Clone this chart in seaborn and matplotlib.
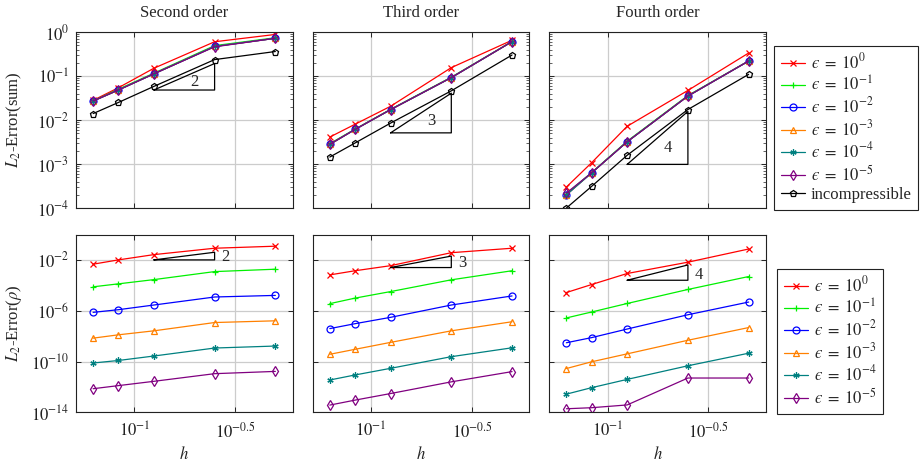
import numpy as np
import matplotlib
matplotlib.use("Agg")
import matplotlib.pyplot as plt
import seaborn as sns
from matplotlib.ticker import LogLocator, NullLocator, FixedLocator, NullFormatter

# ---------------- data ----------------
h = [1/16, 1/12, 1/8, 1/4, 1/2]
titles = ["Second order", "Third order", "Fourth order"]
series_labels = ["$\u03f5\\;=\\;10^{0}$", "$\u03f5\\;=\\;10^{-1}$", "$\u03f5\\;=\\;10^{-2}$",
                 "$\u03f5\\;=\\;10^{-3}$", "$\u03f5\\;=\\;10^{-4}$", "$\u03f5\\;=\\;10^{-5}$",
                 "incompressible"]
colors = ["#ff0000", "#00f000", "#0000ff", "#ff8000", "#008080", "#800080", "#000000"]
markers = ["x", "+", "o", "^", (6, 2, 0), "d", "p"]

# L2 error (sum), second order
s2_e0 = [0.028, 0.054, 0.15, 0.60, 0.88]
s2_e1 = [0.027, 0.050, 0.116, 0.49, 0.74]
s2_e2 = [0.027, 0.048, 0.112, 0.47, 0.72]
s2_e3 = [0.027, 0.048, 0.112, 0.47, 0.72]
s2_e4 = [0.027, 0.048, 0.112, 0.47, 0.72]
s2_e5 = [0.027, 0.048, 0.112, 0.46, 0.72]
s2_inc = [0.014, 0.025, 0.058, 0.236, 0.36]
# third order
s3_e0 = [0.0041, 0.0080, 0.0205, 0.155, 0.65]
s3_e1 = [0.0029, 0.0062, 0.0175, 0.094, 0.61]
s3_e2 = [0.0028, 0.0061, 0.0172, 0.092, 0.605]
s3_e3 = [0.0028, 0.0061, 0.0172, 0.092, 0.605]
s3_e4 = [0.0028, 0.0061, 0.0172, 0.092, 0.605]
s3_e5 = [0.0028, 0.0061, 0.0172, 0.092, 0.605]
s3_inc = [0.00144, 0.0030, 0.0085, 0.046, 0.30]
# fourth order
s4_e0 = [3.0e-4, 1.07e-3, 7.2e-3, 0.047, 0.333]
s4_e1 = [2.1e-4, 6.4e-4, 3.3e-3, 0.036, 0.22]
s4_e2 = [2.0e-4, 6.3e-4, 3.2e-3, 0.035, 0.219]
s4_e3 = [2.0e-4, 6.3e-4, 3.2e-3, 0.035, 0.219]
s4_e4 = [2.0e-4, 6.3e-4, 3.2e-3, 0.035, 0.219]
s4_e5 = [2.2e-4, 6.3e-4, 3.2e-3, 0.035, 0.219]
s4_inc = [1.0e-4, 3.1e-4, 1.58e-3, 0.0173, 0.109]

# L2 error (rho)
r2_e0 = [4.6e-3, 1.0e-2, 2.6e-2, 8.3e-2, 0.12]
r2_e1 = [7.6e-5, 1.3e-4, 2.8e-4, 1.2e-3, 1.85e-3]
r2_e2 = [7.4e-7, 1.2e-6, 2.8e-6, 1.2e-5, 1.6e-5]
r2_e3 = [6.9e-9, 1.26e-8, 2.6e-8, 1.17e-7, 1.6e-7]
r2_e4 = [7.6e-11, 1.2e-10, 2.7e-10, 1.15e-9, 1.65e-9]
r2_e5 = [7.2e-13, 1.26e-12, 2.75e-12, 1.1e-11, 1.66e-11]

r3_e0 = [6.6e-4, 1.4e-3, 3.5e-3, 3.7e-2, 8.3e-2]
r3_e1 = [3.6e-6, 9.8e-6, 3.2e-5, 2.7e-4, 1.4e-3]
r3_e2 = [3.9e-8, 9.5e-8, 3.0e-7, 2.8e-6, 1.45e-5]
r3_e3 = [3.7e-10, 9.1e-10, 3.2e-9, 2.6e-8, 1.35e-7]
r3_e4 = [3.5e-12, 8.7e-12, 2.9e-11, 2.4e-10, 1.2e-9]
r3_e5 = [3.7e-14, 9.1e-14, 3.0e-13, 2.5e-12, 1.6e-11]

r4_e0 = [2.7e-5, 1.15e-4, 8.5e-4, 6.6e-3, 7.2e-2]
r4_e1 = [2.7e-7, 7.9e-7, 3.7e-6, 4.7e-5, 4.9e-4]
r4_e2 = [3.0e-9, 7.6e-9, 3.6e-8, 4.8e-7, 4.8e-6]
r4_e3 = [2.8e-11, 9.5e-11, 4.0e-10, 4.7e-9, 4.7e-8]
r4_e4 = [2.7e-13, 8.7e-13, 3.9e-12, 4.6e-11, 4.5e-10]
r4_e5 = [1.9e-14, 2.3e-14, 3.8e-14, 5.0e-12, 5.0e-12]

# slope triangles
tri_slopes = [2, 3, 4]
sum_tri_base = [0.048, 0.0051, 0.00098]
rho_tri_base = [1.0e-2, 2.5e-3, 2.5e-4]

x_ticks = [10**-1, 10**-0.5]
x_ticklabels = [r"$10^{-1}$", r"$10^{-0.5}$"]
sum_yticks = [1e-4, 1e-3, 1e-2, 1e-1, 1e0]
sum_yticklabels = [r"$10^{-4}$", r"$10^{-3}$", r"$10^{-2}$", r"$10^{-1}$", r"$10^{0}$"]
rho_yticks = [1e-14, 1e-10, 1e-6, 1e-2]
rho_yticklabels = [r"$10^{-14}$", r"$10^{-10}$", r"$10^{-6}$", r"$10^{-2}$"]

sum_panels = [[s2_e0, s2_e1, s2_e2, s2_e3, s2_e4, s2_e5, s2_inc],
              [s3_e0, s3_e1, s3_e2, s3_e3, s3_e4, s3_e5, s3_inc],
              [s4_e0, s4_e1, s4_e2, s4_e3, s4_e4, s4_e5, s4_inc]]
rho_panels = [[r2_e0, r2_e1, r2_e2, r2_e3, r2_e4, r2_e5],
              [r3_e0, r3_e1, r3_e2, r3_e3, r3_e4, r3_e5],
              [r4_e0, r4_e1, r4_e2, r4_e3, r4_e4, r4_e5]]

# ---------------- style ----------------
sns.set_theme(style="ticks")
plt.rcParams.update({
    "font.family": ["Liberation Serif", "DejaVu Serif"],
    "mathtext.fontset": "stix",
    "font.size": 12,
    "axes.edgecolor": "#222222",
    "axes.linewidth": 0.8,
    "xtick.direction": "in",
    "ytick.direction": "in",
    "xtick.top": True,
    "ytick.right": True,
    "xtick.color": "#222222",
    "ytick.color": "#222222",
    "xtick.labelsize": 12,
    "ytick.labelsize": 12,
})

W, H = 924, 466
fig = plt.figure(figsize=(W / 100, H / 100), dpi=100)

col_left = [76, 312.7, 549.3]
col_w = 216.5
top_row = (32, 208)
bot_row = (234.5, 412.3)
xlim = (10**-1.289, 10**-0.216)


def make_ax(x0, row):
    y0, y1 = row
    return fig.add_axes([x0 / W, 1 - y1 / H, col_w / W, (y1 - y0) / H])


def style_ax(ax, yticks, yticklabels, ylim, minor_y, show_x):
    ax.set_xscale("log")
    ax.set_yscale("log")
    ax.set_xlim(*xlim)
    ax.set_ylim(*ylim)
    ax.xaxis.set_major_locator(FixedLocator(x_ticks))
    ax.xaxis.set_minor_locator(NullLocator())
    ax.xaxis.set_minor_formatter(NullFormatter())
    if show_x:
        ax.set_xticklabels(x_ticklabels)
    else:
        ax.set_xticklabels([])
    ax.yaxis.set_major_locator(FixedLocator(yticks))
    if minor_y:
        ax.yaxis.set_minor_locator(LogLocator(base=10, subs=np.arange(2, 10), numticks=20))
    else:
        ax.yaxis.set_minor_locator(NullLocator())
    ax.yaxis.set_minor_formatter(NullFormatter())
    ax.set_yticklabels(yticklabels)
    ax.grid(True, which="major", color="#cccccc", linewidth=0.9)
    ax.set_axisbelow(True)
    ax.tick_params(which="major", length=3.5, width=0.7, pad=5)
    ax.tick_params(axis="x", which="major", pad=7)
    ax.tick_params(which="minor", length=2, width=0.5)
    for s in ax.spines.values():
        s.set_visible(True)


def plot_series(ax, ys, n):
    for i in range(n):
        mk = markers[i]
        ms = 5 if mk in ("o", "^", "p", "d") else 4.5
        sns.lineplot(x=h, y=ys[i], ax=ax, color=colors[i], marker=mk,
                     markersize=ms, markeredgecolor=colors[i], markerfacecolor="none",
                     markeredgewidth=0.9, linewidth=0.9, label=series_labels[i],
                     legend=False, errorbar=None, sort=False)


def slope_triangle(ax, base, s, label_pos):
    x0, x1 = h[2], h[3]
    ytop = base * (x1 / x0) ** s
    ax.plot([x0, x1, x1, x0], [base, ytop, base, base], color="black", linewidth=0.9,
            zorder=5)
    fx, fy = label_pos
    lx = x0 * (x1 / x0) ** fx
    ly = base * (ytop / base) ** fy
    ax.text(lx, ly, str(s), ha="center", va="center", fontsize=12, zorder=6)


top_axes, bot_axes = [], []
for j in range(3):
    ax = make_ax(col_left[j], top_row)
    ax.set_xscale("log"); ax.set_yscale("log")
    plot_series(ax, sum_panels[j], 7)
    slope_triangle(ax, sum_tri_base[j], tri_slopes[j], (0.67, 0.30))
    style_ax(ax, sum_yticks, sum_yticklabels, (1e-4, 1e0), True, False)
    ax.set_title(titles[j], fontsize=12, pad=11)
    ax.set_xlabel("")
    ax.set_ylabel("")
    if j > 0:
        ax.set_yticklabels([])
    top_axes.append(ax)

    bx = make_ax(col_left[j], bot_row)
    bx.set_xscale("log"); bx.set_yscale("log")
    plot_series(bx, rho_panels[j], 6)
    slope_triangle(bx, rho_tri_base[j], tri_slopes[j], (1.18, 0.37))
    style_ax(bx, rho_yticks, rho_yticklabels, (1e-14, 1e0), False, True)
    bx.set_xlabel(r"$h$", fontsize=12)
    bx.xaxis.set_label_coords(0.5, -0.19)
    bx.set_ylabel("")
    if j > 0:
        bx.set_yticklabels([])
    bot_axes.append(bx)

top_axes[0].set_ylabel(r"$L_2$-Error(sum)", fontsize=12)
top_axes[0].yaxis.set_label_coords(-0.24, 0.5)
bot_axes[0].set_ylabel(r"$L_2$-Error($\rho$)", fontsize=12)
bot_axes[0].yaxis.set_label_coords(-0.24, 0.5)

leg_kw = dict(frameon=True, fancybox=False, edgecolor="#222222", framealpha=1,
              handlelength=1.45, handletextpad=0.35, borderpad=0.4, labelspacing=0.15,
              fontsize=12, borderaxespad=0)
h_top = top_axes[2].get_lines()[:7]
lg1 = top_axes[2].legend(h_top, series_labels, loc="upper left",
                         bbox_to_anchor=(774 / W, 1 - 46 / H),
                         bbox_transform=fig.transFigure, **leg_kw)
lg1.get_frame().set_linewidth(0.8)
h_bot = bot_axes[2].get_lines()[:6]
lg2 = bot_axes[2].legend(h_bot, series_labels[:6], loc="upper left",
                         bbox_to_anchor=(777 / W, 1 - 269 / H),
                         bbox_transform=fig.transFigure, **leg_kw)
lg2.get_frame().set_linewidth(0.8)

fig.savefig("out.png", dpi=100)
